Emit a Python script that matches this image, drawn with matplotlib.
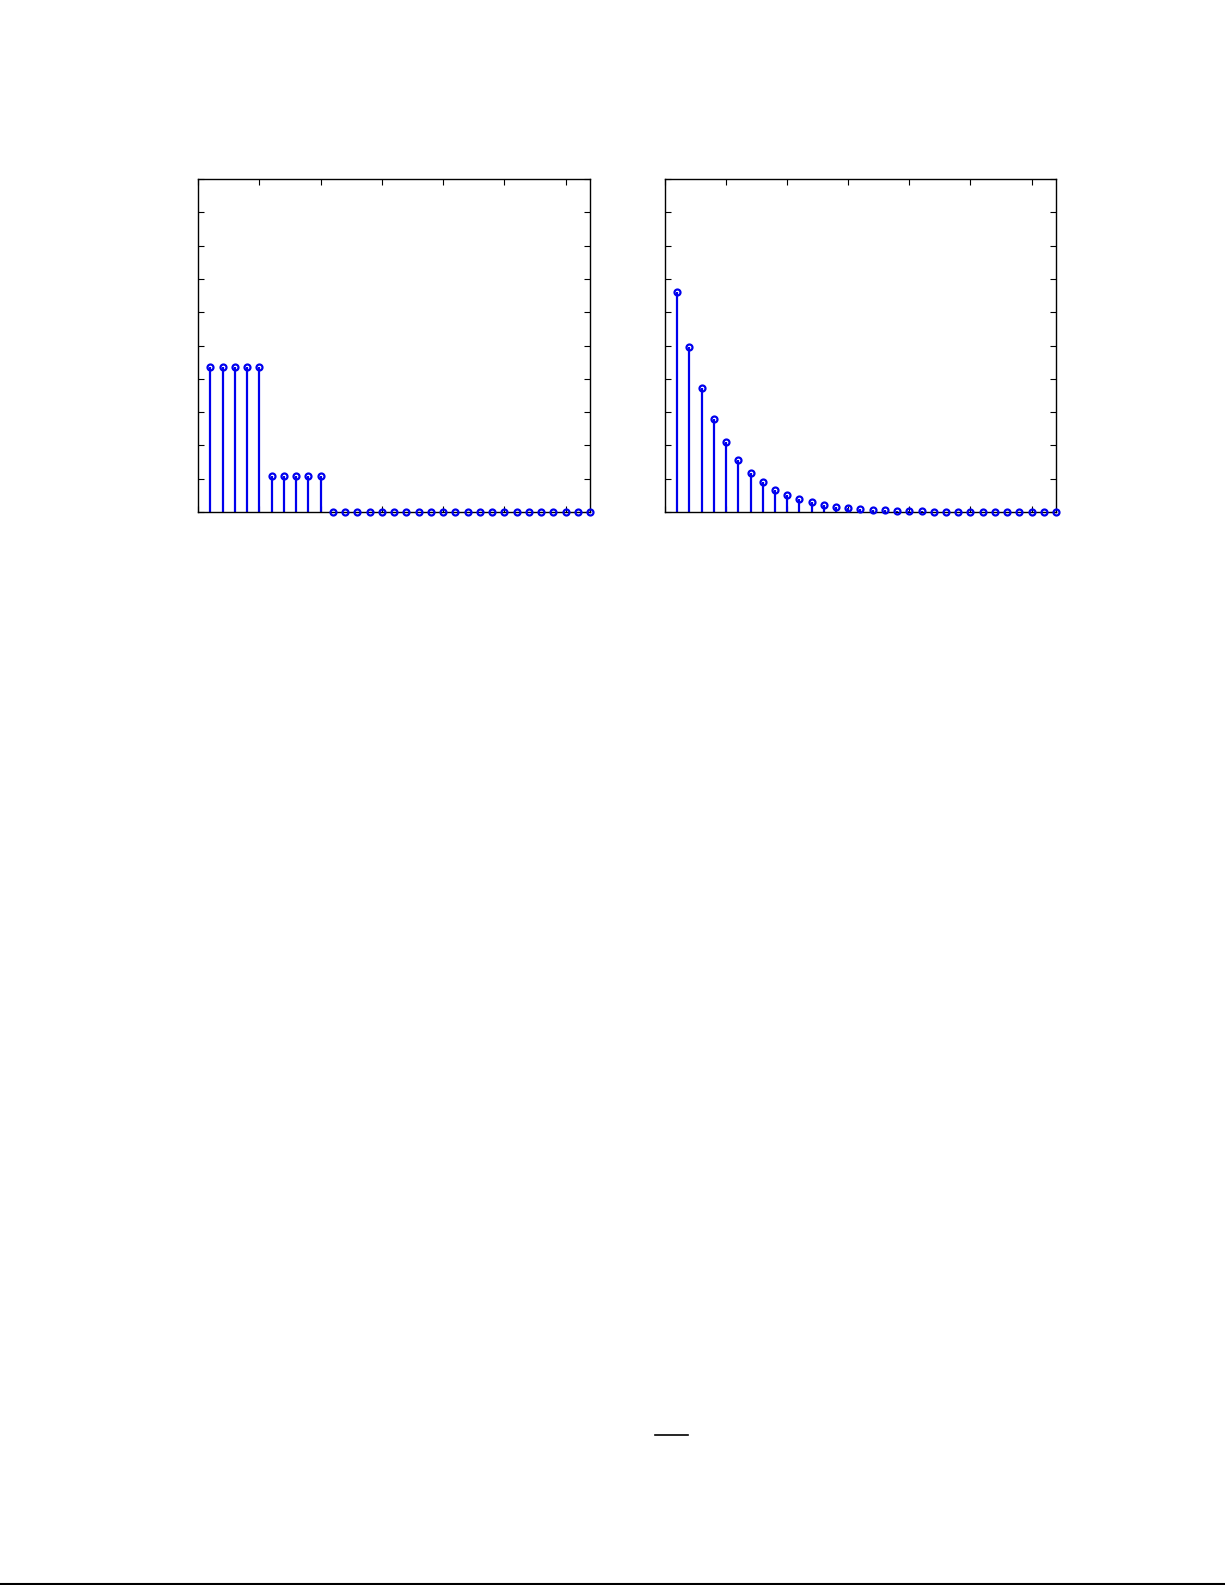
import numpy as np
import matplotlib.pyplot as plt

# sample index n = 1..32
n = np.arange(1, 33)

# left panel: two blocks then zeros
left_vals = [0.435] * 5 + [0.108] * 5 + [0.0] * 22

# right panel: decaying sequence
right_vals = [0.661, 0.496, 0.372, 0.280, 0.209, 0.157, 0.118, 0.089,
              0.066, 0.050, 0.038, 0.029, 0.021, 0.016, 0.012, 0.009,
              0.007, 0.005, 0.004, 0.003, 0.002, 0.001, 0.001, 0.0,
              0.0, 0.0, 0.0, 0.0, 0.0, 0.0, 0.0, 0.0]

x_ticks = [0, 5, 10, 15, 20, 25, 30]
y_ticks = np.linspace(0, 1, 11)

W, H = 1225, 1585
fig = plt.figure(figsize=(W / 100, H / 100), dpi=100)


def px_axes(x0, x1, y0, y1):
    return fig.add_axes([x0 / W, 1 - y1 / H, (x1 - x0) / W, (y1 - y0) / H])


def stem_panel(ax, vals):
    ml, sl, bl = ax.stem(n, vals, basefmt=' ')
    plt.setp(sl, color='#0000ee', linewidth=1.6, clip_on=False)
    plt.setp(ml, marker='o', markersize=4.3, markerfacecolor='none',
             markeredgecolor='#0000ee', markeredgewidth=1.6, clip_on=False,
             zorder=3)
    ax.set_xlim(0, 32)
    ax.set_ylim(0, 1)
    ax.set_xticks(x_ticks)
    ax.set_yticks(y_ticks)
    ax.tick_params(direction='in', length=4, width=0.8, top=True, right=True,
                   labelbottom=False, labelleft=False)
    for s in ax.spines.values():
        s.set_linewidth(1.0)


ax1 = px_axes(198, 590, 179, 512)
stem_panel(ax1, left_vals)

ax2 = px_axes(665, 1056, 179, 512)
stem_panel(ax2, right_vals)

# short rule near the bottom and page bottom line
fig.add_artist(plt.Line2D([655 / W, 688 / W], [1 - 1435 / H, 1 - 1435 / H],
                          color='black', linewidth=1.2))
fig.add_artist(plt.Line2D([0, 1], [1 - 1583.5 / H, 1 - 1583.5 / H],
                          color='black', linewidth=1.5))

fig.savefig('out.png', dpi=100, facecolor='white')
